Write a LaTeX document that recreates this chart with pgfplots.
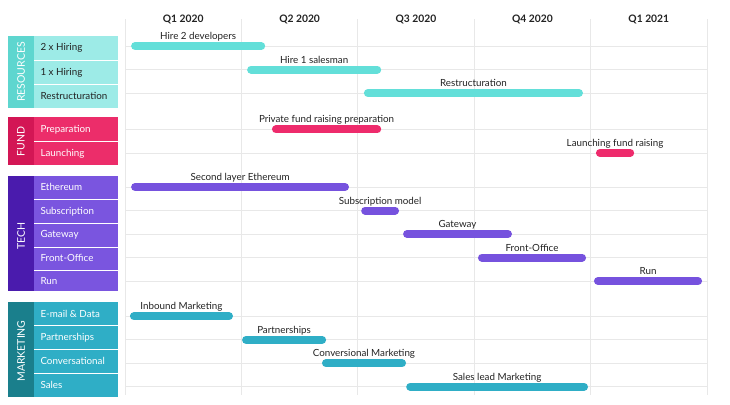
\documentclass[border=0pt]{standalone}
\usepackage{pgfplots}
\pgfplotsset{compat=1.18}
\usepackage{fontspec}
\setmainfont{Lato}
\definecolor{resD}{HTML}{5ED6CF}
\definecolor{resC}{HTML}{9DEBE7}
\definecolor{resB}{HTML}{63DFD9}
\definecolor{funD}{HTML}{D31655}
\definecolor{funC}{HTML}{EC2D6A}
\definecolor{funB}{HTML}{EE2B6C}
\definecolor{tecD}{HTML}{4A1BAD}
\definecolor{tecC}{HTML}{7A55DF}
\definecolor{tecB}{HTML}{7652DE}
\definecolor{mktD}{HTML}{1A7F8C}
\definecolor{mktC}{HTML}{2FAEC6}
\definecolor{mktB}{HTML}{2FAEC6}
\definecolor{txt}{HTML}{222222}
\newcommand{\lf}{\fontsize{9.8}{11}\selectfont}
\newcommand{\gf}{\fontsize{10.5}{12}\selectfont}
\tikzset{lbl/.style={pos=0.5, anchor=base, yshift=6.5pt, inner sep=0pt, text=txt, font=\lf}}
\begin{document}
\begin{tikzpicture}[x=1pt,y=1pt]
\useasboundingbox (0,0) rectangle (730,-404);
% ---- left panels ----
\fill[resC] (8,-36) rectangle (118,-108);
\fill[resD] (8,-36) rectangle (34,-108);
\foreach \s in {60.5,84.5} \draw[white,line width=1pt] (34,-\s) -- (118,-\s);
\node[rotate=90,white,font=\gf] at (21,-72) {RESOURCES};
\node[anchor=mid west,text=txt,font=\lf] at (37,-48.2) {2 x Hiring};
\node[anchor=mid west,text=txt,font=\lf] at (37,-72.5) {1 x Hiring};
\node[anchor=mid west,text=txt,font=\lf] at (37,-96.5) {Restructuration};
\fill[funC] (8,-117) rectangle (118,-165);
\fill[funD] (8,-117) rectangle (34,-165);
\draw[white,line width=1pt] (34,-141.5) -- (118,-141.5);
\node[rotate=90,white,font=\gf] at (21,-141.5) {FUND};
\node[anchor=mid west,white,font=\lf] at (37,-129.5) {Preparation};
\node[anchor=mid west,white,font=\lf] at (37,-153.5) {Launching};
\fill[tecC] (8,-176) rectangle (118,-291);
\fill[tecD] (8,-176) rectangle (34,-291);
\foreach \s in {199.5,223,247,270} \draw[white,line width=1pt] (34,-\s) -- (118,-\s);
\node[rotate=90,white,font=\gf] at (21,-236) {TECH};
\node[anchor=mid west,white,font=\lf] at (37,-187.8) {Ethereum};
\node[anchor=mid west,white,font=\lf] at (37,-211.5) {Subscription};
\node[anchor=mid west,white,font=\lf] at (37,-235.2) {Gateway};
\node[anchor=mid west,white,font=\lf] at (37,-258.7) {Front-Office};
\node[anchor=mid west,white,font=\lf] at (37,-281.5) {Run};
\fill[mktC] (8,-302) rectangle (118,-397);
\fill[mktD] (8,-302) rectangle (34,-397);
\foreach \s in {325.5,349.5,373.5} \draw[white,line width=1pt] (34,-\s) -- (118,-\s);
\node[rotate=90,white,font=\gf] at (21,-351) {MARKETING};
\node[anchor=mid west,white,font=\lf] at (37,-314.5) {E-mail \& Data};
\node[anchor=mid west,white,font=\lf] at (37,-338) {Partnerships};
\node[anchor=mid west,white,font=\lf] at (37,-361.8) {Conversational};
\node[anchor=mid west,white,font=\lf] at (37,-385.5) {Sales};
% ---- gantt axis ----
\begin{axis}[at={(125pt,-395pt)}, anchor=south west, scale only axis,
  width=582pt, height=376pt, xmin=0, xmax=15, ymin=-1.15, ymax=14.85,
  y dir=reverse, clip=false,
  xtick={0,3,...,15}, xticklabels={},
  ytick={0,1,2,3.55,4.55,6,7,8,9,10,11.5,12.5,13.5,14.5}, yticklabels={},
  grid=major, grid style={draw=black!9, line width=0.8pt},
  axis line style={draw=none}, major tick length=0pt,
  every axis plot/.append style={line width=8pt, line cap=round, mark=none},
]
\node[anchor=base,font=\fontsize{10.3}{12}\selectfont\bfseries,text=txt] at (axis cs:1.5,-1.02) {Q1 2020};
\node[anchor=base,font=\fontsize{10.3}{12}\selectfont\bfseries,text=txt] at (axis cs:4.5,-1.02) {Q2 2020};
\node[anchor=base,font=\fontsize{10.3}{12}\selectfont\bfseries,text=txt] at (axis cs:7.5,-1.02) {Q3 2020};
\node[anchor=base,font=\fontsize{10.3}{12}\selectfont\bfseries,text=txt] at (axis cs:10.5,-1.02) {Q4 2020};
\node[anchor=base,font=\fontsize{10.3}{12}\selectfont\bfseries,text=txt] at (axis cs:13.5,-1.02) {Q1 2021};
% Resources
\addplot[resB] coordinates {(0.26,0) (3.51,0)} node[lbl] {Hire 2 developers};
\addplot[resB] coordinates {(3.25,1) (6.50,1)} node[lbl] {Hire 1 salesman};
\addplot[resB] coordinates {(6.26,2) (11.70,2)} node[lbl] {Restructuration};
% Fund
\addplot[funB] coordinates {(3.89,3.55) (6.50,3.55)} node[lbl] {Private fund raising preparation};
\addplot[funB] coordinates {(12.24,4.55) (13.02,4.55)} node[lbl] {Launching fund raising};
% Tech
\addplot[tecB] coordinates {(0.26,6) (5.67,6)} node[lbl] {Second layer Ethereum};
\addplot[tecB] coordinates {(6.19,7) (6.96,7)} node[lbl] {Subscription model};
\addplot[tecB] coordinates {(7.27,8) (9.87,8)} node[lbl] {Gateway};
\addplot[tecB] coordinates {(9.20,9) (11.78,9)} node[lbl] {Front-Office};
\addplot[tecB] coordinates {(12.19,10) (14.77,10)} node[lbl] {Run};
% Marketing
\addplot[mktB] coordinates {(0.23,11.5) (2.68,11.5)} node[lbl] {Inbound Marketing};
\addplot[mktB] coordinates {(3.12,12.5) (5.08,12.5)} node[lbl] {Partnerships};
\addplot[mktB] coordinates {(5.18,13.5) (7.14,13.5)} node[lbl] {Conversional Marketing};
\addplot[mktB] coordinates {(7.35,14.5) (11.83,14.5)} node[lbl] {Sales lead Marketing};
\end{axis}
\end{tikzpicture}
\end{document}
